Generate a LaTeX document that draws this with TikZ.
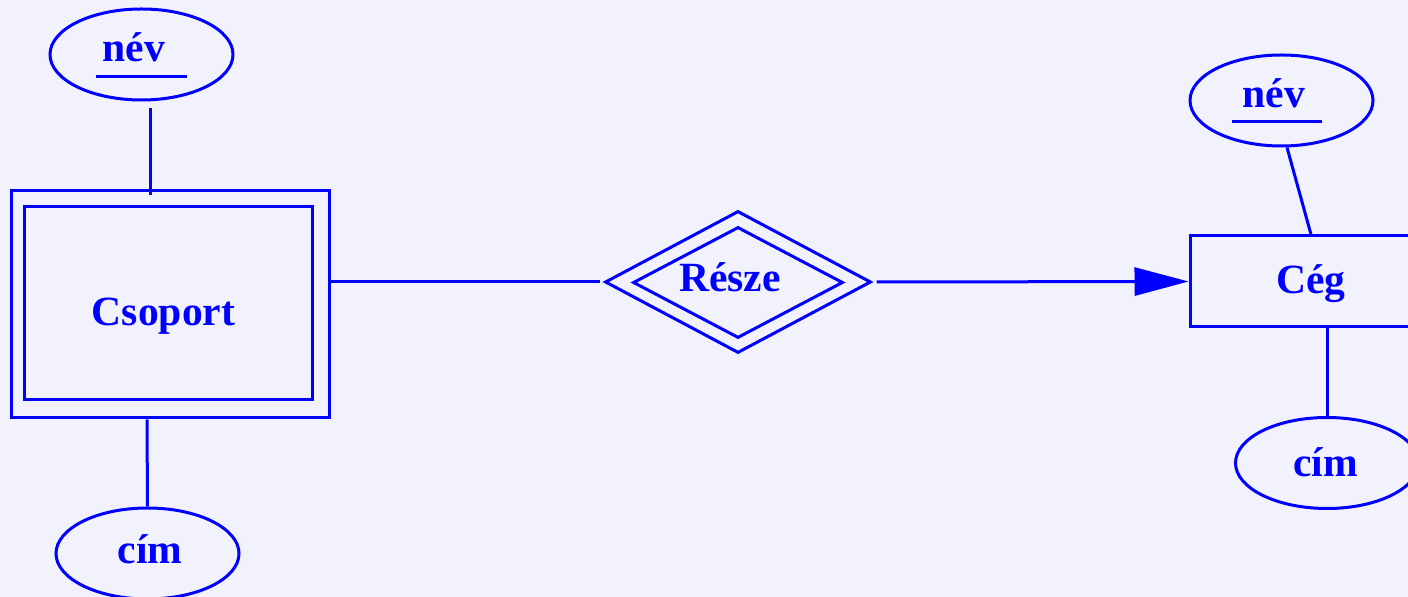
\documentclass[tikz,border=0pt]{standalone}
\usepackage{fontspec}
\setmainfont{Liberation Serif}
\usetikzlibrary{shapes.geometric,arrows.meta}
\definecolor{erblue}{RGB}{0,0,255}
\definecolor{pagebg}{RGB}{242,242,252}
\tikzset{
  er/.style={draw=erblue, line width=1.5pt},
  ent/.style={er, rectangle, inner sep=0pt},
  attr/.style={er, ellipse, inner sep=0pt, minimum width=91.5pt, minimum height=45.5pt},
  rel/.style={er, diamond, inner sep=0pt},
  lbl/.style={text=erblue, anchor=base, inner sep=0pt, font=\bfseries\fontsize{20.8}{25}\selectfont}
}
\begin{document}
\begin{tikzpicture}[x=0.5pt,y=-0.5pt]
        \useasboundingbox (0,0) rectangle (1408,597);
        \clip (0,0) rectangle (1408,597);
        \fill[pagebg] (0,0) rectangle (1408,597);

        % Csoport (weak entity)
        \node[ent, minimum width=159pt, minimum height=113.5pt] (csopout) at (170,304.5) {};
        \node[ent, minimum width=144pt, minimum height=96.5pt] (csopin) at (168,303.5) {};
        \node[lbl] (csoptxt) at (163.5,326) {Csoport};

        % nev / cim of Csoport
        \node[attr] (nev1) at (141.5,54.5) {};
        \node[lbl] (nev1txt) at (134,62) {név};
        \draw[er] (96,77) -- (187,77);
        \node[attr] (cim1) at (147.5,553.5) {};
        \node[lbl] (cim1txt) at (150,564) {cím};
        \draw[er] ([xshift=4.25pt,yshift=-3.5pt]nev1.south) -- ([xshift=-10pt,yshift=-3pt]csopout.north);
        \draw[er] ([xshift=-11.5pt]csopout.south) -- (cim1.north);

        % Resze (identifying relationship)
        \node[rel, minimum width=133pt, minimum height=71pt] (reszeout) at (738,282) {};
        \node[rel, minimum width=105pt, minimum height=55.5pt] (reszein) at (738,282.5) {};
        \node[lbl] (reszetxt) at (730,292) {Része};

        % Ceg
        \node[ent, minimum width=121pt, minimum height=45.5pt] (ceg) at (1311,281.5) {};
        \node[lbl] (cegtxt) at (1311,294) {Cég};
        \node[attr] (nev2) at (1281.5,100.5) {};
        \node[lbl] (nev2txt) at (1274,108) {név};
        \draw[er] (1232,122) -- (1322,122);
        \node[attr] (cim2) at (1327,463) {};
        \node[lbl] (cim2txt) at (1325.5,477) {cím};
        \draw[er] ([xshift=2.75pt]nev2.south) -- (ceg.north);
        \draw[er] (ceg.south -| cim2.north) -- (cim2.north);

        % Connectors
        \draw[er] (csopout.east |- reszeout.west) -- ([xshift=-2pt]reszeout.west);
        \draw[er, -{Triangle[length=27pt,width=14pt]}] ([xshift=2pt]reszeout.east) -- (ceg.west);
    \end{tikzpicture}
\end{document}
